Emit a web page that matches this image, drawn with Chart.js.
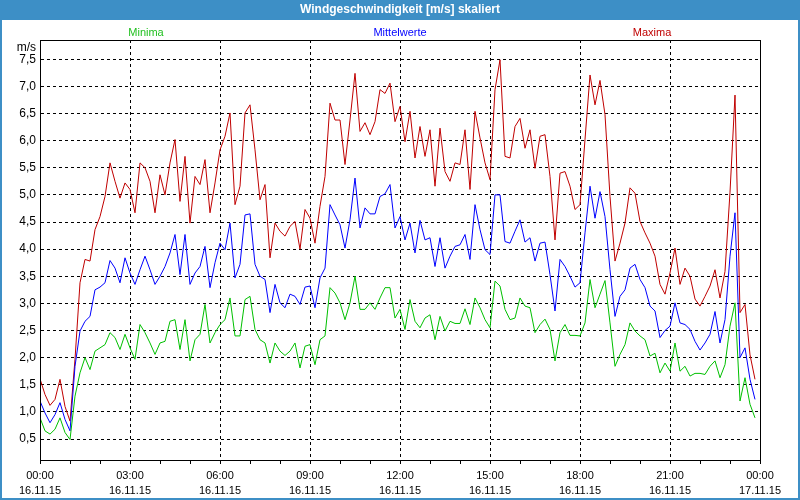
<!DOCTYPE html>
<html>
<head>
<meta charset="utf-8">
<script src="https://cdn.jsdelivr.net/npm/chart.js@4.4.1/dist/chart.umd.min.js"></script>
<style>
  html, body { margin: 0; padding: 0; background: #fff; }
  #wrap { width: 800px; height: 500px; }
</style>
</head>
<body>
<div id="wrap"><canvas id="grafico" width="800" height="500"></canvas></div>
<script>
// Zeitachse: 10-Minuten-Werte, Minuten ab 00:00
const minuten = Array.from({ length: 144 }, (_, i) => i * 10);

const minima = [
  0.89, 0.65, 0.59, 0.68, 0.89, 0.62, 0.49, 1.29, 1.72, 2.00, 1.78, 2.12,
  2.18, 2.24, 2.46, 2.37, 2.15, 2.43, 2.18, 1.97, 2.61, 2.46, 2.27, 2.06,
  2.27, 2.30, 2.67, 2.70, 2.15, 2.70, 1.94, 2.33, 2.43, 2.98, 2.27, 2.46,
  2.61, 2.70, 3.10, 2.40, 2.40, 3.07, 3.13, 2.52, 2.33, 2.27, 1.90, 2.27,
  2.12, 2.04, 2.12, 2.27, 1.81, 2.21, 2.24, 1.87, 2.33, 2.40, 3.29, 3.19,
  3.01, 2.70, 3.01, 3.50, 2.89, 2.89, 3.01, 2.89, 3.10, 3.29, 3.29, 2.73,
  2.89, 2.52, 3.07, 2.67, 2.55, 2.73, 2.79, 2.33, 2.76, 2.49, 2.67, 2.63,
  2.63, 2.90, 2.61, 3.10, 2.92, 2.70, 2.55, 3.41, 3.32, 2.89, 2.70, 2.73,
  3.10, 2.95, 2.92, 2.46, 2.61, 2.71, 2.52, 1.94, 2.46, 2.61, 2.41, 2.41,
  2.40, 2.64, 3.44, 2.92, 3.17, 3.42, 2.64, 1.84, 2.06, 2.24, 2.64, 2.49,
  2.40, 2.33, 2.03, 2.08, 1.72, 1.90, 1.75, 2.27, 1.75, 1.84, 1.66, 1.71,
  1.71, 1.69, 1.84, 1.94, 1.63, 1.87, 2.58, 3.01, 1.20, 1.63, 1.14, 0.89
];

const mittelwerte = [
  1.20, 0.98, 0.80, 0.95, 1.17, 0.86, 0.65, 1.84, 2.49, 2.67, 2.76, 3.25,
  3.30, 3.38, 3.79, 3.65, 3.38, 3.84, 3.56, 3.35, 3.62, 3.87, 3.62, 3.35,
  3.50, 3.68, 3.93, 4.27, 3.53, 4.27, 3.35, 3.56, 3.68, 4.05, 3.29, 3.75,
  4.11, 3.99, 4.48, 3.47, 3.72, 4.63, 4.65, 3.72, 3.50, 3.44, 2.83, 3.35,
  3.01, 2.92, 3.17, 3.13, 2.98, 3.30, 3.32, 2.92, 3.47, 3.65, 4.82, 4.63,
  4.45, 4.02, 4.54, 5.31, 4.39, 4.76, 4.65, 4.65, 4.97, 5.02, 5.19, 4.39,
  4.60, 4.17, 4.48, 3.93, 4.53, 4.17, 4.21, 3.68, 4.21, 3.65, 3.87, 4.05,
  4.08, 4.27, 3.81, 4.82, 4.36, 3.99, 3.90, 5.00, 5.00, 4.14, 4.11, 4.33,
  4.54, 4.13, 4.21, 3.78, 4.11, 4.13, 3.53, 2.86, 3.81, 3.68, 3.50, 3.30,
  3.38, 4.30, 5.16, 4.57, 5.06, 4.60, 3.62, 2.76, 3.13, 3.25, 3.65, 3.72,
  3.44, 3.29, 2.95, 2.86, 2.37, 2.50, 2.58, 3.01, 2.64, 2.61, 2.52, 2.30,
  2.14, 2.27, 2.43, 2.85, 2.27, 2.70, 3.87, 4.67, 2.00, 2.18, 1.60, 1.23
];

const maxima = [
  1.61, 1.32, 1.12, 1.23, 1.60, 1.10, 0.83, 1.97, 3.38, 3.81, 3.78, 4.36,
  4.60, 4.97, 5.59, 5.25, 4.94, 5.22, 5.10, 4.67, 5.59, 5.50, 5.25, 4.67,
  5.37, 5.00, 5.59, 6.02, 4.88, 5.71, 4.48, 5.34, 5.19, 5.65, 4.67, 5.22,
  5.83, 6.08, 6.51, 4.82, 5.16, 6.51, 6.66, 5.83, 4.91, 5.19, 3.84, 4.48,
  4.33, 4.24, 4.42, 4.51, 4.00, 4.73, 4.57, 4.11, 4.79, 5.34, 6.69, 6.38,
  6.38, 5.56, 6.38, 7.24, 6.17, 6.33, 6.11, 6.35, 6.94, 6.87, 7.06, 6.35,
  6.63, 5.98, 6.54, 5.68, 6.26, 5.71, 6.20, 5.16, 6.23, 5.43, 5.25, 5.59,
  5.56, 6.20, 5.10, 6.54, 6.05, 5.59, 5.28, 6.94, 7.49, 5.71, 5.68, 6.26,
  6.41, 5.86, 6.20, 5.49, 6.08, 6.11, 5.34, 4.17, 5.40, 5.43, 5.16, 4.73,
  4.82, 6.02, 7.21, 6.66, 7.11, 6.48, 4.97, 3.78, 4.11, 4.48, 5.13, 5.03,
  4.51, 4.30, 4.11, 3.87, 3.35, 3.17, 3.56, 4.02, 3.35, 3.65, 3.50, 3.08,
  2.95, 3.13, 3.32, 3.62, 3.10, 3.59, 5.05, 6.84, 2.83, 2.98, 2.05, 1.60
];

// Achsenbeschriftung
const yTicks = [0.5, 1.0, 1.5, 2.0, 2.5, 3.0, 3.5, 4.0, 4.5, 5.0, 5.5, 6.0, 6.5, 7.0, 7.5];
const xTicks = [0, 60, 120, 180, 240, 300, 360, 420, 480, 540, 600, 660, 720,
  780, 840, 900, 960, 1020, 1080, 1140, 1200, 1260, 1320, 1380, 1440];
const zeitLabels = ['00:00', '03:00', '06:00', '09:00', '12:00', '15:00', '18:00', '21:00', '00:00'];
const datumLabels = ['16.11.15', '16.11.15', '16.11.15', '16.11.15', '16.11.15',
  '16.11.15', '16.11.15', '16.11.15', '17.11.15'];

const titel = 'Windgeschwindigkeit [m/s] skaliert';
const schrift = '"Liberation Sans", Arial, sans-serif';

// Titelleiste, Rahmen, Legende, Einheit
const rahmenPlugin = {
  id: 'rahmen',
  beforeDraw(chart) {
    const c = chart.ctx;
    c.save();
    c.fillStyle = '#ffffff';
    c.fillRect(0, 0, chart.width, chart.height);
    c.restore();
  },
  afterDraw(chart) {
    const c = chart.ctx;
    const a = chart.chartArea;
    c.save();
    // Plotrahmen
    c.strokeStyle = '#000';
    c.lineWidth = 1;
    c.strokeRect(Math.round(a.left) + 0.5, Math.round(a.top) + 0.5,
      Math.round(a.right - a.left), Math.round(a.bottom - a.top));
    // Titelleiste
    c.fillStyle = '#3d8fc6';
    c.fillRect(0, 0, chart.width, 20);
    c.fillStyle = '#ffffff';
    c.font = 'bold 12px ' + schrift;
    c.textAlign = 'center';
    c.textBaseline = 'middle';
    c.fillText(titel, chart.width / 2, 10);
    // Fensterrand
    c.fillStyle = '#3d8fc6';
    c.fillRect(0, 0, 2, chart.height);
    c.fillRect(chart.width - 2, 0, 2, chart.height);
    c.fillRect(0, chart.height - 2, chart.width, 2);
    // Legende
    c.font = '11px ' + schrift;
    c.textBaseline = 'alphabetic';
    const pos = [146, 400, 652];
    chart.data.datasets.forEach((ds, i) => {
      c.fillStyle = ds.textColor;
      c.fillText(ds.label, pos[i], 36);
    });
    // Einheit
    c.fillStyle = '#000';
    c.font = '12px ' + schrift;
    c.textAlign = 'right';
    c.fillText('m/s', 36, 51);
    c.restore();
  }
};

const ctx = document.getElementById('grafico').getContext('2d');
const grafico = new Chart(ctx, {
  type: 'line',
  data: {
    labels: minuten,
    datasets: [
      { label: 'Minima', data: minima, borderColor: '#00c000', textColor: '#22c020' },
      { label: 'Mittelwerte', data: mittelwerte, borderColor: '#0000ff', textColor: '#0000ff' },
      { label: 'Maxima', data: maxima, borderColor: '#c00000', textColor: '#c00000' }
    ].map(ds => Object.assign(ds, { borderWidth: 1, pointRadius: 0, tension: 0, fill: false }))
  },
  options: {
    responsive: false,
    animation: false,
    devicePixelRatio: 1,
    layout: { padding: { top: 40, right: 40, left: 0, bottom: 0 } },
    plugins: {
      legend: { display: false },
      title: { display: false },
      tooltip: { enabled: false }
    },
    scales: {
      x: {
        type: 'linear',
        min: 0,
        max: 1440,
        afterFit(scale) { scale.height = 40; },
        afterBuildTicks(scale) { scale.ticks = xTicks.map(v => ({ value: v })); },
        grid: {
          color: c => (c.tick && c.tick.value % 180 === 0) ? '#000' : 'rgba(0,0,0,0)',
          tickColor: '#000',
          tickLength: 4,
          lineWidth: 1
        },
        border: { display: true, color: '#000', dash: [3, 3] },
        ticks: {
          autoSkip: false,
          maxRotation: 0,
          padding: 4,
          color: '#000',
          font: { family: schrift, size: 11, lineHeight: 1.42 },
          callback: v => {
            if (v % 180 !== 0) return '';
            const k = v / 180;
            return [zeitLabels[k], datumLabels[k]];
          }
        }
      },
      y: {
        min: 0.113,
        max: 7.855,
        afterFit(scale) { scale.width = 40; },
        afterBuildTicks(scale) { scale.ticks = yTicks.map(v => ({ value: v })); },
        grid: { color: '#000', drawTicks: false, lineWidth: 1 },
        border: { display: true, color: '#000', dash: [3, 3] },
        ticks: {
          padding: 4,
          color: '#000',
          font: { family: schrift, size: 12 },
          callback: v => v.toFixed(1).replace('.', ',')
        }
      }
    }
  },
  plugins: [rahmenPlugin]
});
</script>
</body>
</html>
